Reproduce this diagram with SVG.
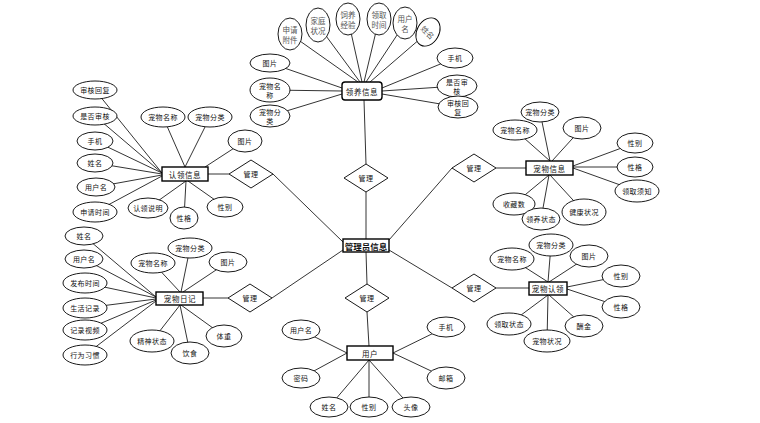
<svg xmlns="http://www.w3.org/2000/svg" width="760" height="423" viewBox="0 0 760 423">
<style>
.c line{stroke:#000;stroke-width:0.8}
ellipse{fill:#fff;stroke:#000;stroke-width:0.9}
.ent{fill:#fff;stroke:#000;stroke-width:1.4}
.dia{fill:#fff;stroke:#000;stroke-width:0.9}
text{font-family:"Noto Sans CJK SC","Noto Sans",sans-serif;font-size:7px;fill:#111;text-anchor:middle;dominant-baseline:central;letter-spacing:0.4px}
.et{font-size:7.5px;letter-spacing:0.6px}
.v{fill:#555;font-size:7.5px;letter-spacing:0}
.m{font-size:8.5px;font-weight:bold;letter-spacing:0}
</style>
<rect width="760" height="423" fill="#fff"/>
<g class="c" id="connectors">
<line x1="366" y1="192" x2="366" y2="239"/>
<line x1="366" y1="252" x2="367" y2="284"/>
<line x1="367" y1="312" x2="369" y2="346"/>
<line x1="364" y1="100" x2="366" y2="164"/>
<line x1="273" y1="174" x2="343" y2="242"/>
<line x1="272" y1="298" x2="343" y2="250"/>
<line x1="389" y1="240" x2="452" y2="168"/>
<line x1="389" y1="250" x2="452" y2="288"/>
<line x1="208" y1="174" x2="229" y2="174"/>
<line x1="203" y1="298" x2="228" y2="298"/>
<line x1="496" y1="168" x2="526" y2="168"/>
<line x1="496" y1="288" x2="529" y2="288"/>
<line x1="290" y1="34" x2="358" y2="82"/>
<line x1="318" y1="25" x2="360" y2="82"/>
<line x1="348" y1="19" x2="362" y2="82"/>
<line x1="379" y1="19" x2="364" y2="82"/>
<line x1="405" y1="23" x2="366" y2="82"/>
<line x1="428" y1="32" x2="370" y2="82"/>
<line x1="270" y1="63" x2="342" y2="88"/>
<line x1="270" y1="90" x2="342" y2="91"/>
<line x1="270" y1="116" x2="342" y2="94"/>
<line x1="455" y1="58" x2="382" y2="88"/>
<line x1="457" y1="86" x2="382" y2="91"/>
<line x1="458" y1="107" x2="382" y2="94"/>
<line x1="95" y1="90" x2="162" y2="173"/>
<line x1="95" y1="116" x2="162" y2="173"/>
<line x1="95" y1="141" x2="162" y2="173"/>
<line x1="95" y1="163" x2="162" y2="174"/>
<line x1="96" y1="187" x2="162" y2="175"/>
<line x1="95" y1="212" x2="162" y2="176"/>
<line x1="163" y1="117" x2="185" y2="167"/>
<line x1="210" y1="117" x2="185" y2="167"/>
<line x1="245" y1="141" x2="205" y2="167"/>
<line x1="148" y1="208" x2="186" y2="181"/>
<line x1="184" y1="218" x2="186" y2="181"/>
<line x1="225" y1="207" x2="188" y2="181"/>
<line x1="84" y1="236" x2="156" y2="297"/>
<line x1="84" y1="259" x2="156" y2="297"/>
<line x1="85" y1="283" x2="156" y2="298"/>
<line x1="85" y1="308" x2="156" y2="299"/>
<line x1="85" y1="330" x2="156" y2="300"/>
<line x1="85" y1="355" x2="156" y2="301"/>
<line x1="153" y1="263" x2="180" y2="292"/>
<line x1="190" y1="248" x2="181" y2="292"/>
<line x1="228" y1="262" x2="183" y2="292"/>
<line x1="152" y1="341" x2="180" y2="305"/>
<line x1="190" y1="353" x2="180" y2="305"/>
<line x1="224" y1="336" x2="181" y2="305"/>
<line x1="515" y1="130" x2="550" y2="161"/>
<line x1="540" y1="112" x2="550" y2="161"/>
<line x1="582" y1="128" x2="552" y2="161"/>
<line x1="635" y1="143" x2="573" y2="166"/>
<line x1="635" y1="167" x2="573" y2="167"/>
<line x1="637" y1="191" x2="573" y2="168"/>
<line x1="514" y1="204" x2="549" y2="175"/>
<line x1="541" y1="219" x2="549" y2="175"/>
<line x1="584" y1="212" x2="550" y2="175"/>
<line x1="512" y1="259" x2="548" y2="282"/>
<line x1="551" y1="245" x2="548" y2="282"/>
<line x1="589" y1="256" x2="549" y2="282"/>
<line x1="621" y1="276" x2="567" y2="287"/>
<line x1="621" y1="307" x2="567" y2="289"/>
<line x1="509" y1="324" x2="548" y2="295"/>
<line x1="547" y1="341" x2="548" y2="295"/>
<line x1="584" y1="326" x2="549" y2="295"/>
<line x1="301" y1="330" x2="347" y2="353"/>
<line x1="301" y1="378" x2="347" y2="353"/>
<line x1="329" y1="407" x2="369" y2="360"/>
<line x1="369" y1="407" x2="369" y2="360"/>
<line x1="411" y1="407" x2="369" y2="360"/>
<line x1="446" y1="327" x2="393" y2="353"/>
<line x1="446" y1="378" x2="393" y2="353"/>
</g>

<g id="admin"><rect class="ent" x="343" y="239" width="46" height="13"/><text class="m" x="366" y="245.5">管理员信息</text></g>
<g id="rel-top"><polygon class="dia" points="344,178 366,164 388,178 366,192"/><text x="366" y="178">管理</text></g>
<g id="rel-bottom"><polygon class="dia" points="345,298 367,284 389,298 367,312"/><text x="367" y="298">管理</text></g>
<g id="rel-ul"><polygon class="dia" points="229,174 251,160 273,174 251,188"/><text x="251" y="174">管理</text></g>
<g id="rel-ll"><polygon class="dia" points="228,298 250,284 272,298 250,312"/><text x="250" y="298">管理</text></g>
<g id="rel-ur"><polygon class="dia" points="452,168 474,154 496,168 474,182"/><text x="474" y="168">管理</text></g>
<g id="rel-lr"><polygon class="dia" points="452,288 474,274 496,288 474,302"/><text x="474" y="288">管理</text></g>

<g id="adopt">
<rect class="ent" x="342" y="82" width="40" height="18" rx="3"/><text class="et" x="362" y="91">领养信息</text>
<ellipse cx="290" cy="34" rx="12" ry="16"/><text class="v" x="290" y="29">申请</text><text class="v" x="290" y="39">附件</text>
<ellipse cx="318" cy="25" rx="12" ry="17"/><text class="v" x="318" y="20">家庭</text><text class="v" x="318" y="30">状况</text>
<ellipse cx="348" cy="19" rx="12" ry="16"/><text class="v" x="348" y="14">饲养</text><text class="v" x="348" y="24">经验</text>
<ellipse cx="379" cy="19" rx="12" ry="16"/><text class="v" x="379" y="14">领取</text><text class="v" x="379" y="24">时间</text>
<ellipse cx="405" cy="23" rx="12" ry="16"/><text class="v" x="405" y="18">用户</text><text class="v" x="405" y="28">名</text>
<g transform="rotate(30 428 32)"><ellipse cx="428" cy="32" rx="11" ry="15"/></g><text class="v" x="428" y="32" transform="rotate(45 428 32)">姓名</text>
<ellipse cx="270" cy="63" rx="20" ry="9"/><text x="270" y="63">图片</text>
<ellipse cx="270" cy="90" rx="20" ry="12"/><text x="270" y="86">宠物名</text><text x="270" y="95">称</text>
<ellipse cx="270" cy="116" rx="20" ry="11"/><text x="270" y="112">宠物分</text><text x="270" y="121">类</text>
<ellipse cx="455" cy="58" rx="18" ry="10"/><text x="455" y="58">手机</text>
<ellipse cx="457" cy="86" rx="20" ry="11"/><text x="457" y="82">是否审</text><text x="457" y="91">核</text>
<ellipse cx="458" cy="107" rx="20" ry="11"/><text x="458" y="103">审核回</text><text x="458" y="112">复</text>
</g>

<g id="claiminfo">
<rect class="ent" x="162" y="167" width="46" height="14"/><text class="et" x="185" y="174">认领信息</text>
<ellipse cx="95" cy="90" rx="22" ry="9"/><text x="95" y="90">审核回复</text>
<ellipse cx="95" cy="116" rx="22" ry="9"/><text x="95" y="116">是否审核</text>
<ellipse cx="95" cy="141" rx="18" ry="9"/><text x="95" y="141">手机</text>
<ellipse cx="95" cy="163" rx="18" ry="9"/><text x="95" y="163">姓名</text>
<ellipse cx="96" cy="187" rx="19" ry="9"/><text x="96" y="187">用户名</text>
<ellipse cx="95" cy="212" rx="22" ry="10"/><text x="95" y="212">申请时间</text>
<ellipse cx="148" cy="208" rx="20" ry="10"/><text x="148" y="208">认领说明</text>
<ellipse cx="184" cy="218" rx="14" ry="11"/><text x="184" y="218">性格</text>
<ellipse cx="225" cy="207" rx="18" ry="10"/><text x="225" y="207">性别</text>
<ellipse cx="163" cy="117" rx="22" ry="10"/><text x="163" y="117">宠物名称</text>
<ellipse cx="210" cy="117" rx="22" ry="10"/><text x="210" y="117">宠物分类</text>
<ellipse cx="245" cy="141" rx="17" ry="11"/><text x="245" y="141">图片</text>
</g>

<g id="diary">
<rect class="ent" x="156" y="292" width="47" height="13"/><text class="et" x="180" y="298.5">宠物日记</text>
<ellipse cx="84" cy="236" rx="19" ry="9"/><text x="84" y="236">姓名</text>
<ellipse cx="84" cy="259" rx="19" ry="9"/><text x="84" y="259">用户名</text>
<ellipse cx="85" cy="283" rx="22" ry="10"/><text x="85" y="283">发布时间</text>
<ellipse cx="85" cy="308" rx="22" ry="10"/><text x="85" y="308">生活记录</text>
<ellipse cx="85" cy="330" rx="22" ry="10"/><text x="85" y="330">记录视频</text>
<ellipse cx="85" cy="355" rx="22" ry="10"/><text x="85" y="355">行为习惯</text>
<ellipse cx="153" cy="263" rx="22" ry="10"/><text x="153" y="263">宠物名称</text>
<ellipse cx="190" cy="248" rx="22" ry="10"/><text x="190" y="248">宠物分类</text>
<ellipse cx="228" cy="262" rx="19" ry="10"/><text x="228" y="262">图片</text>
<ellipse cx="152" cy="341" rx="22" ry="11"/><text x="152" y="341">精神状态</text>
<ellipse cx="190" cy="353" rx="19" ry="11"/><text x="190" y="353">饮食</text>
<ellipse cx="224" cy="336" rx="18" ry="11"/><text x="224" y="336">体重</text>
</g>

<g id="petinfo">
<rect class="ent" x="526" y="161" width="47" height="14"/><text class="et" x="549.5" y="168">宠物信息</text>
<ellipse cx="515" cy="130" rx="22" ry="10"/><text x="515" y="130">宠物名称</text>
<ellipse cx="540" cy="112" rx="19" ry="10"/><text x="540" y="112">宠物分类</text>
<ellipse cx="582" cy="128" rx="19" ry="11"/><text x="582" y="128">图片</text>
<ellipse cx="635" cy="143" rx="18" ry="10"/><text x="635" y="143">性别</text>
<ellipse cx="635" cy="167" rx="18" ry="10"/><text x="635" y="167">性格</text>
<ellipse cx="637" cy="191" rx="22" ry="11"/><text x="637" y="191">领取须知</text>
<ellipse cx="514" cy="204" rx="21" ry="11"/><text x="514" y="204">收藏数</text>
<ellipse cx="541" cy="219" rx="19" ry="11"/><text x="541" y="219">领养状态</text>
<ellipse cx="584" cy="212" rx="22" ry="13"/><text x="584" y="212">健康状况</text>
</g>

<g id="petclaim">
<rect class="ent" x="529" y="282" width="38" height="13"/><text class="et" x="548" y="288.5">宠物认领</text>
<ellipse cx="512" cy="259" rx="22" ry="11"/><text x="512" y="259">宠物名称</text>
<ellipse cx="551" cy="245" rx="22" ry="11"/><text x="551" y="245">宠物分类</text>
<ellipse cx="589" cy="256" rx="19" ry="11"/><text x="589" y="256">图片</text>
<ellipse cx="621" cy="276" rx="19" ry="11"/><text x="621" y="276">性别</text>
<ellipse cx="621" cy="307" rx="19" ry="11"/><text x="621" y="307">性格</text>
<ellipse cx="509" cy="324" rx="22" ry="11"/><text x="509" y="324">领取状态</text>
<ellipse cx="547" cy="341" rx="23" ry="11"/><text x="547" y="341">宠物状况</text>
<ellipse cx="584" cy="326" rx="19" ry="11"/><text x="584" y="326">酬金</text>
</g>

<g id="user">
<rect class="ent" x="347" y="346" width="46" height="14"/><text class="et" x="370" y="353">用户</text>
<ellipse cx="301" cy="330" rx="19" ry="10"/><text x="301" y="330">用户名</text>
<ellipse cx="301" cy="378" rx="19" ry="10"/><text x="301" y="378">密码</text>
<ellipse cx="329" cy="407" rx="19" ry="10"/><text x="329" y="407">姓名</text>
<ellipse cx="369" cy="407" rx="19" ry="10"/><text x="369" y="407">性别</text>
<ellipse cx="411" cy="407" rx="19" ry="10"/><text x="411" y="407">头像</text>
<ellipse cx="446" cy="327" rx="19" ry="10"/><text x="446" y="327">手机</text>
<ellipse cx="446" cy="378" rx="19" ry="11"/><text x="446" y="378">邮箱</text>
</g>
</svg>
